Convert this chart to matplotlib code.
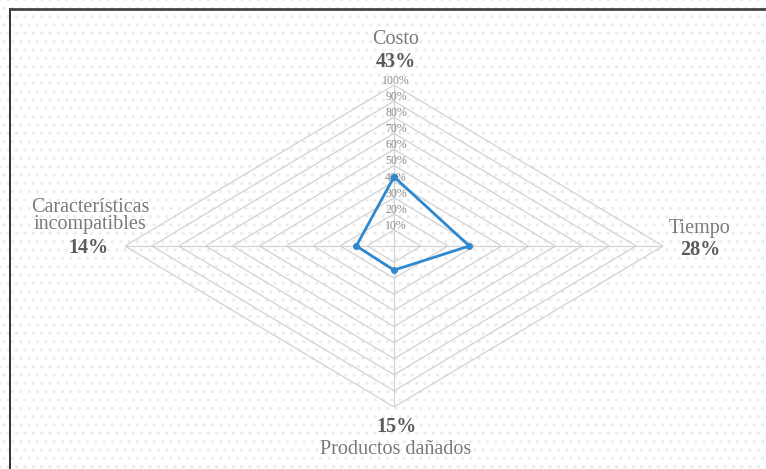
import numpy as np
import matplotlib
matplotlib.use("Agg")
import matplotlib.pyplot as plt
from matplotlib.patches import Rectangle

# data
categories = ["Costo", "Tiempo", "Productos dañados", "Características\nincompatibles"]
values = [43, 28, 15, 14]  # percent
levels = [10, 20, 30, 40, 50, 60, 70, 80, 90, 100]
level_labels = [f"{v}%" for v in levels]

plt.rcParams['font.family'] = ['Liberation Serif', 'DejaVu Serif']
plt.rcParams['hatch.linewidth'] = 1.2

fig = plt.figure(figsize=(7.66, 4.69), dpi=100)

# dotted background + top/left frame
bg = Rectangle((0, 0), 1, 1, transform=fig.transFigure, facecolor='white',
               edgecolor='#ededed', hatch='..', lw=0, zorder=-2)
fig.patches.append(bg)
fig.add_artist(plt.Line2D([10 / 766, 10 / 766], [0, 1 - 9 / 469], transform=fig.transFigure,
                          color='#222222', lw=1.3))
fig.add_artist(plt.Line2D([10 / 766, 1], [1 - 9 / 469, 1 - 9 / 469], transform=fig.transFigure,
                          color='#444444', lw=2.0))

# axes: center (394, 246) px, radius 269 x 161 px
ax = fig.add_axes([(394 - 269) / 766, (223 - 161) / 469, 538 / 766, 322 / 469])
ax.set_xlim(-1, 1)
ax.set_ylim(-1, 1)
ax.axis('off')
ax.patch.set_alpha(0)

# spoke angles: top, right, bottom, left
angles = np.deg2rad([90, 0, -90, 180])
cx = np.cos(angles)
cy = np.sin(angles)

grid_col = '#d2d2d2'
for lv in levels:
    r = lv / 100
    ax.plot(np.append(cx, cx[0]) * r, np.append(cy, cy[0]) * r, color=grid_col, lw=0.9, zorder=1)
for x, y in zip(cx, cy):
    ax.plot([0, x], [0, y], color=grid_col, lw=0.9, zorder=1)

# level labels along top spoke
for lv, lab in zip(levels, level_labels):
    ax.annotate(lab, xy=(0, lv / 100), xytext=(2, 4), textcoords='offset pixels',
                ha='center', va='center', fontsize=8.5, color='#8c8c8c', zorder=2)

# series
vals = np.array(values) / 100
xs = np.append(cx * vals, cx[0] * vals[0])
ys = np.append(cy * vals, cy[0] * vals[0])
ax.plot(xs, ys, color='#2E88CF', lw=2, marker='o', ms=4, zorder=3, clip_on=False)

# category labels
name_col = '#7a7a7a'
pct_col = '#5a5a5a'
fs = 14.5
# (name offset, pct offset) in pixels relative to each spoke end
offsets = [((2, 45), (2, 23)),
           ((37, 18), (37, -4)),
           ((2, -42), (2, -20)),
           ((-35, 30), (-37, -2))]
for i, (name, val) in enumerate(zip(categories, values)):
    (nx_, ny_), (px_, py_) = offsets[i]
    ax.annotate(name, xy=(cx[i], cy[i]), xytext=(nx_, ny_), textcoords='offset pixels',
                ha='center', va='center', fontsize=fs, color=name_col,
                linespacing=0.85, annotation_clip=False)
    ax.annotate(f"{val}%", xy=(cx[i], cy[i]), xytext=(px_, py_), textcoords='offset pixels',
                ha='center', va='center', fontsize=fs, fontweight='bold', color=pct_col,
                annotation_clip=False)

fig.savefig("out.png", dpi=100)
